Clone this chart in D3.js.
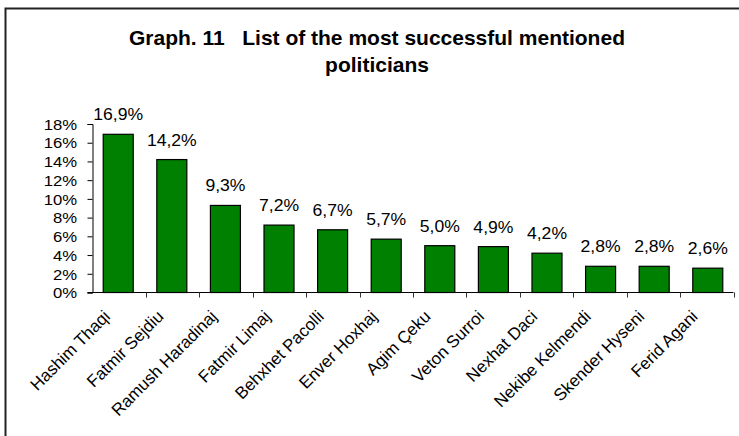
<!DOCTYPE html>
<html>
<head>
<meta charset="utf-8">
<script src="https://cdn.jsdelivr.net/npm/d3@7"></script>
<style>
  html, body { margin: 0; padding: 0; background: #fff; }
  svg { display: block; }
  text { font-family: "Liberation Sans", Arial, sans-serif; fill: #000; }
</style>
</head>
<body>
<svg id="chart" width="739" height="436"></svg>
<script>
// Share of respondents naming each politician as the most successful
const politicians = ["Hashim Thaqi", "Fatmir Sejdiu", "Ramush Haradinaj", "Fatmir Limaj",
  "Behxhet Pacolli", "Enver Hoxhaj", "Agim Çeku", "Veton Surroi", "Nexhat Daci",
  "Nekibe Kelmendi", "Skender Hyseni", "Ferid Agani"];
const shares = [16.9, 14.2, 9.3, 7.2, 6.7, 5.7, 5.0, 4.9, 4.2, 2.8, 2.8, 2.6];
const yTicks = [0, 2, 4, 6, 8, 10, 12, 14, 16, 18];
const titleLines = ["Graph. 11   List of the most successful mentioned", "politicians"];

const svg = d3.select("#chart");

// outer frame (open to the right and bottom)
svg.append("rect")
  .attr("x", 5.5).attr("y", 8.5).attr("width", 760).attr("height", 460)
  .attr("fill", "none").attr("stroke", "#222").attr("stroke-width", 2);

// title
svg.append("text")
  .attr("x", 377).attr("y", 45)
  .attr("text-anchor", "middle")
  .style("font-size", "21px").style("font-weight", "bold")
  .style("white-space", "pre")
  .selectAll("tspan").data(titleLines).join("tspan")
  .attr("x", 377).attr("dy", (d, i) => i === 0 ? 0 : 27)
  .text(d => d);

const x = d3.scaleBand().domain(politicians).range([92.5, 733.5]).paddingInner(0.44).paddingOuter(0.2);
const y = d3.scaleLinear().domain([0, 18]).range([292.5, 124]);

// y axis
const yAxis = svg.append("g").attr("transform", "translate(92.5,0)")
  .call(d3.axisLeft(y).tickValues(yTicks).tickSize(5).tickPadding(4).tickFormat(d => d + "%"));
yAxis.select(".domain").attr("stroke", "#000");
yAxis.selectAll(".tick line").attr("stroke", "#000");
yAxis.selectAll("text")
  .attr("x", 0).attr("dy", "0.36em")
  .attr("transform", "translate(-15.5,0) scale(1.15,1)")
  .style("font-size", "14.5px");

// bars
svg.append("g").selectAll("rect").data(shares).join("rect")
  .attr("x", (d, i) => x(politicians[i]))
  .attr("y", d => y(d))
  .attr("width", x.bandwidth())
  .attr("height", d => y(0) - y(d))
  .attr("fill", "#008000")
  .attr("stroke", "#000").attr("stroke-width", 1.2);

// value labels
svg.append("g").selectAll("text").data(shares).join("text")
  .attr("transform", (d, i) =>
    `translate(${x(politicians[i]) + x.bandwidth() / 2},${y(d) - 14}) scale(1.1,1)`)
  .attr("text-anchor", "middle")
  .style("font-size", "16px")
  .text(d => d.toFixed(1).replace(".", ",") + "%");

// x axis baseline with ticks between categories
const x0 = 92.5, x1 = 733.5;
const bounds = d3.range(politicians.length + 1).map(i => x0 + i * (x1 - x0) / politicians.length);
const xAxis = svg.append("g");
xAxis.append("line")
  .attr("x1", 87.5).attr("x2", x1).attr("y1", y(0)).attr("y2", y(0))
  .attr("stroke", "#000");
xAxis.selectAll("line.tk").data(bounds.slice(1)).join("line").attr("class", "tk")
  .attr("x1", d => Math.round(d) + 0.5).attr("x2", d => Math.round(d) + 0.5)
  .attr("y1", y(0)).attr("y2", y(0) + 5)
  .attr("stroke", "#333");

// rotated category labels
xAxis.selectAll("text").data(politicians).join("text")
  .attr("transform", (d, i) => {
    const cx = (bounds[i] + bounds[i + 1]) / 2 - 8;
    return `translate(${cx},${y(0) + 25}) rotate(-45)`;
  })
  .attr("text-anchor", "end")
  .style("font-size", "17px")
  .text(d => d);
</script>
</body>
</html>
